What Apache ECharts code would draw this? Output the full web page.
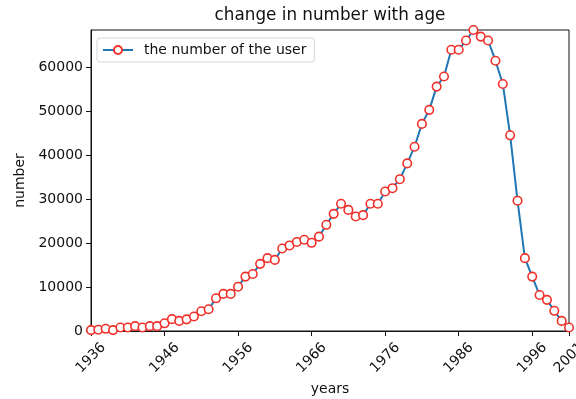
<!DOCTYPE html>
<html>
<head>
<meta charset="utf-8">
<script src="https://cdn.jsdelivr.net/npm/echarts@6/dist/echarts.min.js"></script>
<style>
html,body{margin:0;padding:0;background:#fff;}
#chart{width:576px;height:399px;}
</style>
</head>
<body>
<div id="chart"></div>
<script>
var years = [];
for (var yr = 1936; yr <= 2001; yr++) years.push(yr);
var userCounts = [
  200, 300, 500, 200, 800, 800, 1100, 800, 1100, 1100,
  1750, 2700, 2300, 2650, 3300, 4500, 4950, 7450, 8450, 8450,
  10100, 12400, 13000, 15300, 16600, 16200, 18800, 19500, 20300, 20800,
  20100, 21500, 24200, 26700, 29000, 27600, 26100, 26400, 29000, 29000,
  31800, 32550, 34600, 38200, 42000, 47200, 50400, 55700, 58000, 64100,
  64100, 66200, 68600, 67100, 66200, 61600, 56300, 44600, 29700, 16600,
  12400, 8200, 7100, 4600, 2300, 800
];
var xTickValues = [1936, 1946, 1956, 1966, 1976, 1986, 1996, 2001];
var yTickValues = [0, 10000, 20000, 30000, 40000, 50000, 60000];
var seriesName = 'the number of the user';
var titleText = 'change in number with age';

var points = years.map(function (y, i) { return [y, userCounts[i]]; });
var FONT = 'DejaVu Sans';
var chart = echarts.init(document.getElementById('chart'));
chart.setOption({
  animation: false,
  backgroundColor: '#fff',
  title: {
    text: titleText,
    left: 330,
    top: 7,
    padding: 0,
    textAlign: 'center',
    textStyle: {fontFamily: FONT, fontSize: 16.8, fontWeight: 'normal', color: '#111'}
  },
  grid: {left: 91, right: 7, top: 30, bottom: 68, show: true, borderColor: '#111', borderWidth: 1,
         containLabel: false, outerBoundsMode: 'none'},
  legend: {
    left: 97, top: 38,
    padding: [5, 8, 5, 5],
    borderColor: '#d6d6d6', borderWidth: 1, borderRadius: 3,
    backgroundColor: 'rgba(255,255,255,0.8)',
    itemWidth: 30, itemHeight: 10,
    textStyle: {fontFamily: FONT, fontSize: 14, color: '#111', padding: [0, 0, 0, 6]},
    data: [seriesName]
  },
  xAxis: {
    type: 'value', min: 1936, max: 2001,
    name: 'years', nameLocation: 'middle', nameGap: 50,
    nameTextStyle: {fontFamily: FONT, fontSize: 14, color: '#111'},
    axisLine: {show: true, lineStyle: {color: '#111', width: 1}},
    axisTick: {show: true, length: 5, lineStyle: {color: '#111'}, customValues: xTickValues},
    axisLabel: {
      customValues: xTickValues, rotate: 45, align: 'center', verticalAlign: 'middle', margin: 27,
      fontFamily: FONT, fontSize: 14, color: '#111',
      formatter: function (v) { return String(v); }
    },
    splitLine: {show: false}
  },
  yAxis: {
    type: 'value', min: 0, max: 68600,
    name: 'number', nameLocation: 'middle', nameGap: 64,
    nameTextStyle: {fontFamily: FONT, fontSize: 14, color: '#111'},
    axisLine: {show: true, lineStyle: {color: '#111', width: 1}},
    axisTick: {show: true, length: 5, lineStyle: {color: '#111'}, customValues: yTickValues},
    axisLabel: {customValues: yTickValues, margin: 8, fontFamily: FONT, fontSize: 14, color: '#111',
      formatter: function (v) { return String(v); }},
    splitLine: {show: false}
  },
  series: [{
    name: seriesName,
    type: 'line',
    data: points,
    clip: true,
    smooth: false,
    lineStyle: {color: '#1f77b4', width: 2},
    itemStyle: {color: '#fff', borderColor: '#f0302a', borderWidth: 1.6},
    color: '#1f77b4',
    symbol: 'circle',
    symbolSize: 8.5,
    showAllSymbol: true,
    z: 3
  }]
});
</script>
</body>
</html>
